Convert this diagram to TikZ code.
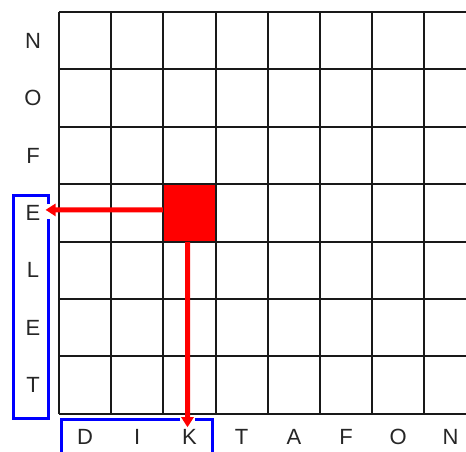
\documentclass[tikz,border=0pt]{standalone}
\usepackage{fontspec}
\setmainfont{Liberation Sans}
\usetikzlibrary{arrows.meta}

\begin{document}
\begin{tikzpicture}[x=1pt, y=-1pt,
    letter/.style={font=\fontsize{22}{22}\selectfont, text=black!85, inner sep=2pt},
    gridline/.style={line width=2pt, black!90},
    blueline/.style={line width=3pt, blue},
    cell/.style={fill=red, minimum width=52.2pt, minimum height=57.4pt, inner sep=0pt},
    arrow/.style={-{Triangle[length=10pt, width=12pt]}, line width=5pt, red}]
\useasboundingbox (0,0) rectangle (466,452);
\clip (0,0) rectangle (466,452);
% marked cell
\node[cell] (hit) at (189.5,212.9) {};
% grid
\foreach \i in {0,...,7}
  \draw[gridline] (59,12+57.4*\i) -- (466,12+57.4*\i);
\foreach \i in {0,...,7}
  \draw[gridline] (59+52.2*\i,12) -- (59+52.2*\i,414);
% letters
\foreach \c [count=\i from 0] in {N,O,F,E,L,E,T}
  \node[letter] (row\i) at (33,{12+57.4*(\i+0.5)}) {\c};
\foreach \c [count=\i from 0] in {D,I,K,T,A,F,O,N}
  \node[letter] (col\i) at ({59+52.2*(\i+0.5)},437) {\c};
% blue frames
\draw[blueline] (48,204) -- (48,195) -- (13,195) -- (13,418) -- (48,418) -- (48,219);
\draw[blueline] (180,419) -- (61,419) -- (61,460);
\draw[blueline] (195,419) -- (212,419) -- (212,460);
% arrows
\draw[arrow] ([yshift=3pt]hit.west) -- ([xshift=3pt,yshift=3pt]row3.east);
\draw[arrow] ([xshift=-2pt]hit.south) -- ([xshift=-2pt]col2.north);
\end{tikzpicture}
\end{document}
